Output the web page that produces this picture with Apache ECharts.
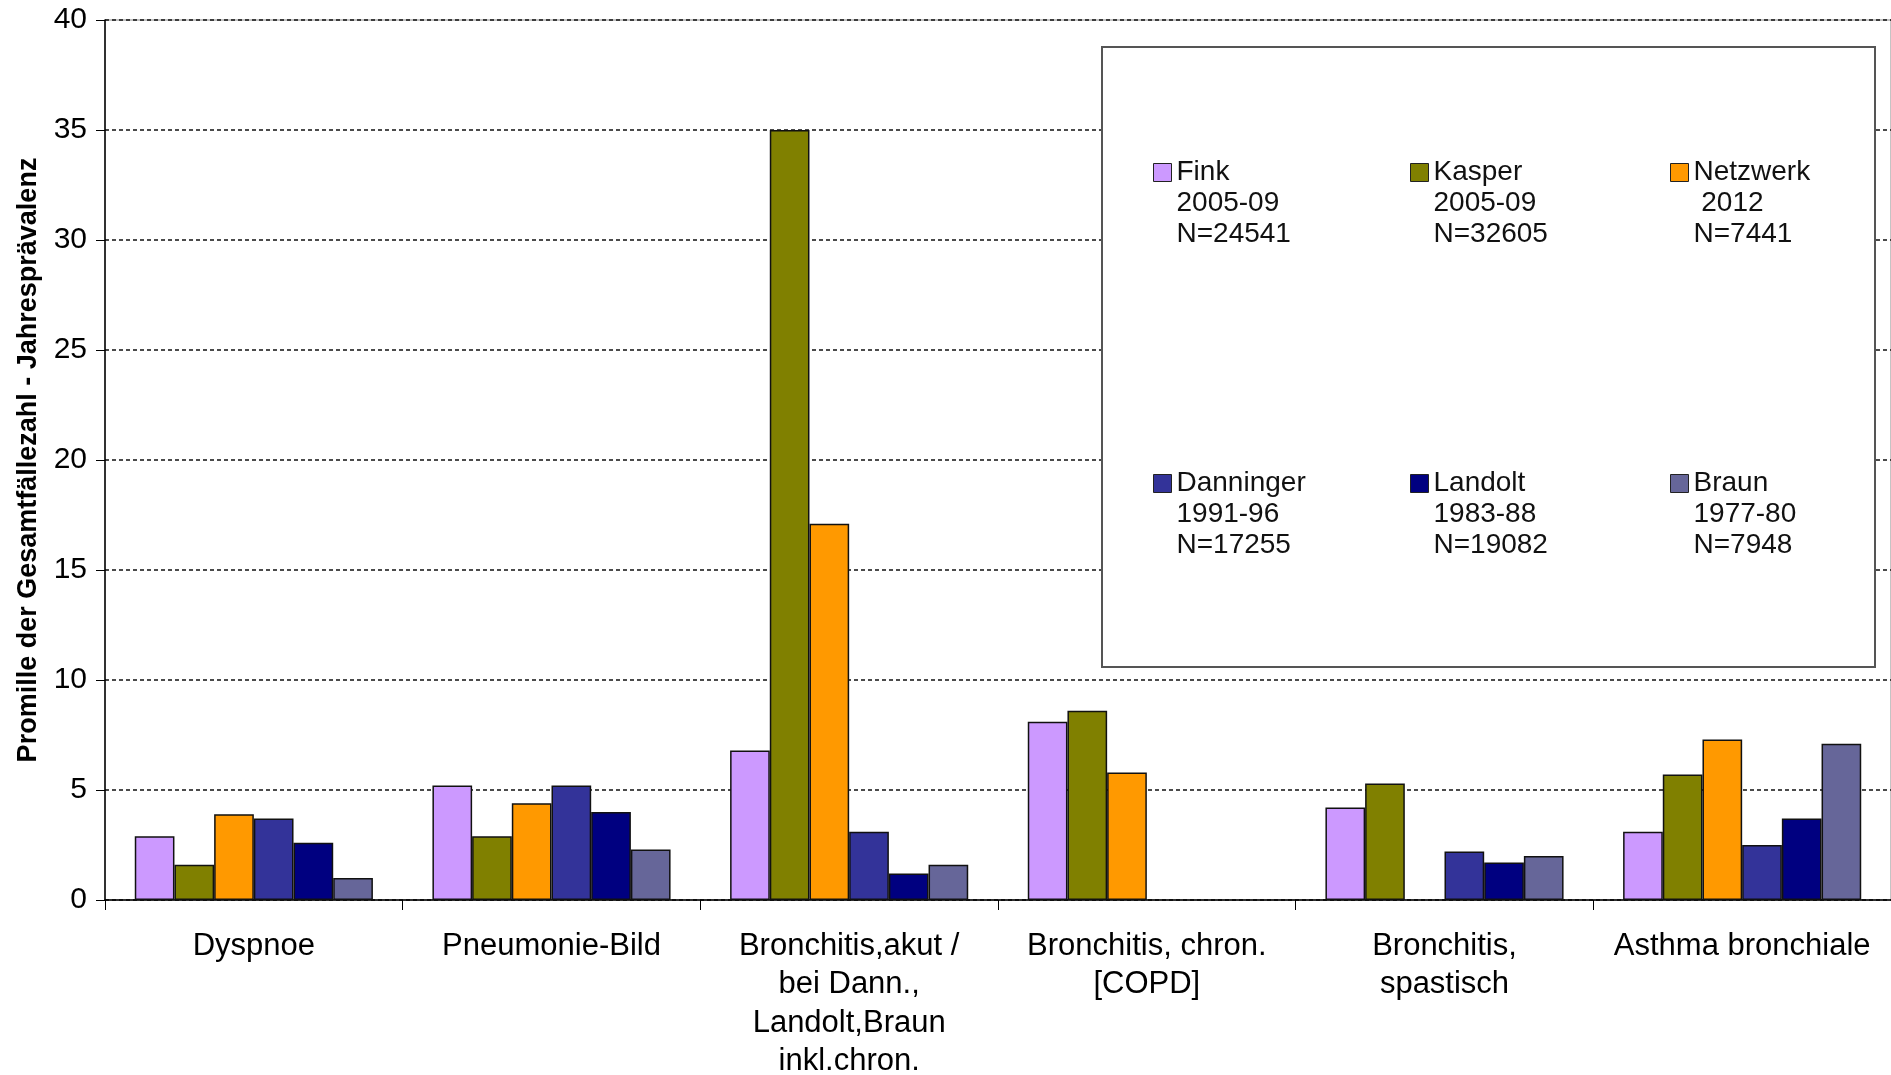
<!DOCTYPE html>
<html>
<head>
<meta charset="utf-8">
<script src="https://cdn.jsdelivr.net/npm/echarts@6/dist/echarts.min.js"></script>
<style>html,body{margin:0;padding:0;background:#fff}#c{width:1891px;height:1075px}</style>
</head>
<body>
<div id="c"></div>
<script>
var categories = ['Dyspnoe', 'Pneumonie-Bild', 'Bronchitis,akut /\nbei Dann.,\nLandolt,Braun\ninkl.chron.', 'Bronchitis, chron.\n[COPD]', 'Bronchitis,\nspastisch', 'Asthma bronchiale'];
var seriesNames = ['Fink', 'Kasper', 'Netzwerk', 'Danninger', 'Landolt', 'Braun'];
var seriesPeriods = ['2005-09', '2005-09', ' 2012', '1991-96', '1983-88', '1977-80'];
var seriesN = ['N=24541', 'N=32605', 'N=7441', 'N=17255', 'N=19082', 'N=7948'];
var fink = [2.9, 5.2, 6.8, 8.1, 4.2, 3.1];
var kasper = [1.6, 2.9, 35.0, 8.6, 5.3, 5.7];
var netzwerk = [3.9, 4.4, 17.1, 5.8, null, 7.3];
var danninger = [3.7, 5.2, 3.1, null, 2.2, 2.5];
var landolt = [2.6, 4.0, 1.2, null, 1.7, 3.7];
var braun = [1.0, 2.3, 1.6, null, 2.0, 7.1];
var yTicks = [0, 5, 10, 15, 20, 25, 30, 35, 40];

var values = [fink, kasper, netzwerk, danninger, landolt, braun];
var colors = ['#CC99FF', '#808000', '#FF9900', '#333399', '#000080', '#666699'];
var FONT = '"Liberation Sans", Arial, sans-serif';

var legendLeft = [1153, 1410, 1670];
var legendTop = [95, 406];
var legends = seriesNames.map(function (name, i) {
  return {
    data: [name],
    left: legendLeft[i % 3],
    top: legendTop[Math.floor(i / 3)],
    orient: 'vertical',
    icon: 'rect',
    itemWidth: 18,
    itemHeight: 18,
    padding: 0,
    z: 6,
    selectedMode: false,
    itemStyle: { borderColor: '#222', borderWidth: 1 },
    formatter: function (n) { return '\n\n' + n + '\n' + seriesPeriods[i] + '\n' + seriesN[i]; },
    textStyle: { fontFamily: FONT, fontSize: 28, lineHeight: 31, color: '#111' }
  };
});

var chart = echarts.init(document.getElementById('c'), null, { renderer: 'canvas' });
chart.setOption({
  animation: false,
  backgroundColor: '#fff',
  grid: { left: 105, top: 20, right: 0, bottom: 175, outerBoundsMode: 'none', containLabel: false, show: true, borderColor: '#888', borderWidth: 1 },
  legend: legends,
  graphic: [{
    type: 'rect', z: 5,
    shape: { x: 1102, y: 47, width: 773, height: 620 },
    style: { fill: '#fff', stroke: '#555', lineWidth: 2 }
  }],
  xAxis: {
    type: 'category',
    data: categories,
    axisLine: { lineStyle: { color: '#000', width: 1.5 } },
    axisTick: { show: true, length: 10, lineStyle: { color: '#000', width: 1 } },
    axisLabel: { fontFamily: FONT, fontSize: 31, lineHeight: 38.5, color: '#000', margin: 27, interval: 0 }
  },
  yAxis: {
    type: 'value',
    min: yTicks[0], max: yTicks[yTicks.length - 1], interval: 5,
    name: 'Promille der Gesamtfällezahl - Jahresprävalenz',
    nameLocation: 'middle',
    nameGap: 63,
    nameTextStyle: { fontFamily: FONT, fontSize: 27, fontWeight: 'bold', color: '#000' },
    axisLine: { show: true, lineStyle: { color: '#000', width: 1.5 } },
    axisTick: { show: true, length: 9, lineStyle: { color: '#000' } },
    axisLabel: { fontFamily: FONT, fontSize: 30, color: '#000', margin: 18 },
    splitLine: { show: true, lineStyle: { color: '#111', type: [4, 3], width: 1.6 } }
  },
  series: seriesNames.map(function (name, i) {
    return {
      name: name,
      type: 'bar',
      data: values[i],
      barGap: '0%',
      barCategoryGap: '20%',
      z: 3,
      itemStyle: { color: colors[i], borderColor: '#111', borderWidth: 1.5 }
    };
  })
});
</script>
</body>
</html>
